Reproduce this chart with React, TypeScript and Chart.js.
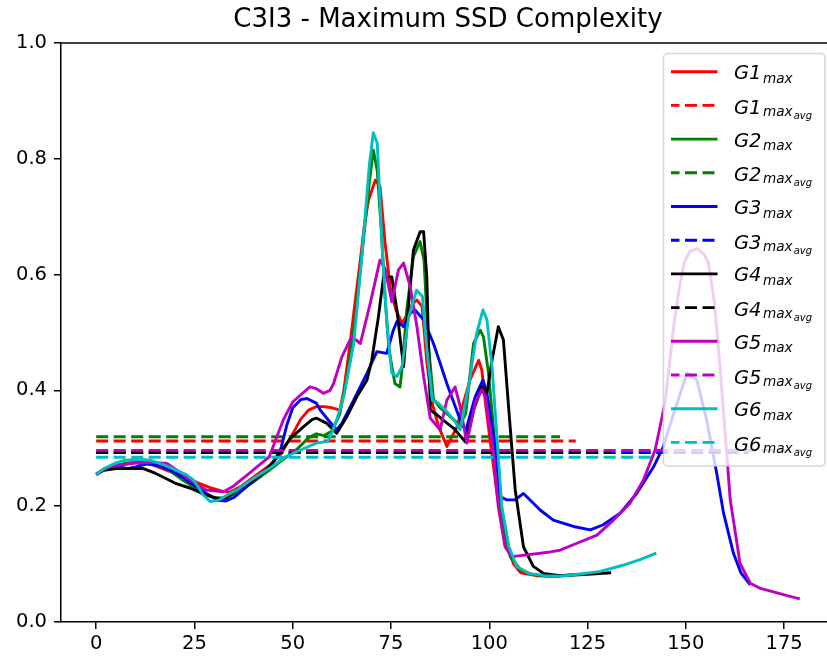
import { useEffect, useRef } from "react";
import { Chart, registerables } from "chart.js";

Chart.register(...registerables);

const titleText = "C3I3 - Maximum SSD Complexity";
const xTickValues = [0, 25, 50, 75, 100, 125, 150, 175];
const yTickValues = [0, 0.2, 0.4, 0.6, 0.8, 1.0];

// G1 (red)
const g1X = [0, 2, 4, 6, 10, 14, 18, 22, 26, 29, 32, 34, 37, 40, 44, 47, 50, 52, 54, 56, 58, 60, 62, 63, 64.6, 66, 67.2, 68.3, 69.3, 71, 72.2, 73.5, 74.8, 76.2, 77.8, 79, 80.5, 81.6, 82.9, 84.1, 85.4, 87, 89.2, 91.8, 93.5, 95.1, 97.3, 98.1, 99, 100.2, 102, 104, 106.2, 108, 112, 116, 122];
const g1Y = [0.255, 0.264, 0.269, 0.271, 0.275, 0.272, 0.262, 0.252, 0.24, 0.232, 0.226, 0.224, 0.235, 0.25, 0.27, 0.29, 0.325, 0.35, 0.366, 0.372, 0.372, 0.37, 0.366, 0.4, 0.481, 0.56, 0.625, 0.69, 0.729, 0.763, 0.752, 0.654, 0.579, 0.54, 0.516, 0.53, 0.55, 0.556, 0.545, 0.45, 0.38, 0.34, 0.303, 0.337, 0.38, 0.418, 0.452, 0.435, 0.38, 0.314, 0.22, 0.14, 0.1, 0.085, 0.08, 0.079, 0.082];

// G2 (green)
const g2X = [0, 2, 4, 6, 10, 14, 18, 22, 26, 30, 33, 36, 40, 44, 48, 51, 54, 56, 58, 60, 62, 64, 66, 68, 69.5, 70.5, 71.5, 72.5, 73.5, 74.5, 76, 77.3, 78, 79, 80.7, 82.4, 83.4, 84.5, 85.8, 87.5, 90, 92.5, 94, 96, 97.7, 98.5, 99.8, 101.5, 103.2, 105.3, 108, 111, 114, 118];
const g2Y = [0.255, 0.264, 0.269, 0.272, 0.277, 0.275, 0.265, 0.245, 0.228, 0.215, 0.214, 0.224, 0.242, 0.262, 0.283, 0.298, 0.318, 0.325, 0.322, 0.33, 0.36, 0.43, 0.53, 0.66, 0.76, 0.815, 0.78, 0.68, 0.56, 0.47, 0.412, 0.406, 0.45, 0.539, 0.631, 0.657, 0.625, 0.48, 0.385, 0.37, 0.355, 0.34, 0.36, 0.481, 0.504, 0.493, 0.43, 0.303, 0.182, 0.113, 0.09, 0.082, 0.08, 0.079];

// G3 (blue)
const g3X = [0, 2, 4, 6, 8, 10, 13, 16, 19, 22, 25, 28, 31, 33, 35, 38, 42, 45, 47, 48.5, 50, 52, 53.6, 56, 57, 59.5, 61.2, 62.5, 65.5, 68.9, 71.4, 73.9, 75.6, 76.5, 78.2, 79.9, 81.1, 83.3, 85.8, 87.5, 89.2, 92.6, 94, 96.4, 98.4, 99.4, 101.5, 102.8, 104.5, 106.6, 108.7, 110.5, 113, 116.3, 121.4, 125.7, 129, 133.3, 137.5, 141.8, 144.3, 146.9, 150.3, 152.8, 155.3, 157.9, 159.6, 162.1, 164, 166.4];
const g3Y = [0.255, 0.264, 0.268, 0.268, 0.265, 0.268, 0.273, 0.27, 0.262, 0.25, 0.236, 0.222, 0.21, 0.209, 0.215, 0.232, 0.255, 0.275, 0.3, 0.34, 0.37, 0.384, 0.386, 0.378, 0.366, 0.345, 0.332, 0.343, 0.383, 0.43, 0.467, 0.464, 0.504, 0.519, 0.51, 0.533, 0.539, 0.522, 0.481, 0.447, 0.412, 0.349, 0.33, 0.389, 0.418, 0.395, 0.303, 0.216, 0.211, 0.211, 0.222, 0.21, 0.193, 0.176, 0.165, 0.159, 0.168, 0.188, 0.222, 0.268, 0.303, 0.36, 0.43, 0.418, 0.349, 0.255, 0.188, 0.119, 0.085, 0.064];

// G4 (black)
const g4X = [0, 2, 5, 8, 12, 15, 18, 20, 24, 28, 31, 33, 36, 40, 43.4, 46, 49.4, 52.7, 55, 56.1, 58.7, 61.2, 63.8, 66.3, 68.9, 70.1, 71.8, 73.1, 75.2, 76.5, 77.5, 78.2, 79.5, 80.7, 82.4, 83.3, 84.1, 85, 86.7, 88, 90.9, 93.9, 96, 98.1, 99.4, 100.7, 102.3, 103.6, 104.9, 106.6, 108.7, 111.2, 113.8, 118, 124, 131];
const g4Y = [0.255, 0.262, 0.265, 0.265, 0.265, 0.257, 0.247, 0.24, 0.231, 0.219, 0.213, 0.214, 0.229, 0.245, 0.262, 0.285, 0.317, 0.337, 0.35, 0.352, 0.343, 0.326, 0.355, 0.389, 0.418, 0.452, 0.527, 0.596, 0.596, 0.539, 0.48, 0.441, 0.55, 0.642, 0.674, 0.674, 0.596, 0.366, 0.358, 0.35, 0.335, 0.311, 0.366, 0.406, 0.395, 0.452, 0.51, 0.487, 0.372, 0.228, 0.13, 0.096, 0.084, 0.08, 0.082, 0.085];

// G5 (magenta)
const g5X = [0, 2, 4, 6, 10, 14, 18, 20.5, 24, 28, 32.4, 35, 39, 44, 47.6, 50, 52, 54.4, 56, 57.8, 59.5, 60.4, 62.5, 65, 67.2, 69.7, 72.2, 73.5, 75.2, 76.9, 78.2, 79.9, 81.6, 83.3, 85, 87.5, 89.2, 91.3, 92.6, 94.3, 96.4, 98.1, 99, 100.7, 102.3, 104, 105.7, 109.6, 115.5, 118, 122.3, 127.4, 131.6, 135.8, 139.2, 142.2, 144.7, 146.9, 148.3, 149.6, 151, 152.8, 154.5, 155.7, 157.2, 158.7, 160, 161.3, 162.1, 163.8, 166.4, 169, 172.3, 176, 179];
const g5Y = [0.255, 0.264, 0.269, 0.271, 0.275, 0.276, 0.274, 0.262, 0.245, 0.228, 0.225, 0.235, 0.257, 0.285, 0.349, 0.38, 0.392, 0.406, 0.403, 0.395, 0.4, 0.412, 0.458, 0.493, 0.481, 0.55, 0.625, 0.61, 0.553, 0.608, 0.62, 0.579, 0.51, 0.424, 0.352, 0.332, 0.383, 0.406, 0.372, 0.309, 0.378, 0.401, 0.389, 0.314, 0.199, 0.13, 0.113, 0.116, 0.121, 0.124, 0.136, 0.15, 0.176, 0.205, 0.245, 0.297, 0.378, 0.51, 0.575, 0.621, 0.64, 0.645, 0.636, 0.622, 0.556, 0.441, 0.326, 0.211, 0.176, 0.101, 0.067, 0.058, 0.052, 0.045, 0.04];

// G6 (cyan)
const g6X = [0, 2, 4.4, 7, 11, 14, 17, 20.5, 23, 24.8, 27.3, 29, 31, 33, 36, 40, 44, 48, 52, 56, 59, 61, 63, 65.5, 67.5, 69.5, 70.5, 71.5, 72.7, 74, 75.2, 76.5, 77.8, 79.5, 81.5, 83, 84, 85.5, 87, 89, 91, 92.6, 95, 96.8, 98.4, 99.4, 100.7, 102, 103.2, 105, 107, 110, 114, 118, 122, 128, 134, 138, 142.5];
const g6Y = [0.255, 0.265, 0.273, 0.279, 0.281, 0.279, 0.272, 0.262, 0.254, 0.245, 0.219, 0.208, 0.21, 0.218, 0.229, 0.248, 0.265, 0.285, 0.297, 0.309, 0.312, 0.345, 0.39, 0.48, 0.625, 0.79, 0.845, 0.827, 0.654, 0.51, 0.43, 0.424, 0.441, 0.527, 0.573, 0.562, 0.481, 0.383, 0.378, 0.365, 0.349, 0.332, 0.418, 0.499, 0.539, 0.522, 0.441, 0.314, 0.199, 0.13, 0.096, 0.084, 0.08, 0.079, 0.082, 0.087, 0.098, 0.107, 0.119];

// averages (dashed) and the last x of each series
const avgValues = [0.3125, 0.32, 0.2925, 0.2925, 0.2965, 0.2845];
const avgEnds = [122, 118, 166, 131, 179, 142];
const groupNames = ["G1", "G2", "G3", "G4", "G5", "G6"];

const seriesX = [g1X, g2X, g3X, g4X, g5X, g6X];
const seriesY = [g1Y, g2Y, g3Y, g4Y, g5Y, g6Y];
const colors = ["#ff0000", "#008000", "#0000ff", "#000000", "#bf00bf", "#00bfbf"];

const FONT = "'DejaVu Sans', sans-serif";
const LW = 2.9;
const DASH = [12, 5.5];

const overlayPlugin = {
  id: "overlay",
  afterDraw(chart: any) {
    const ctx = chart.ctx as CanvasRenderingContext2D;
    const a = chart.chartArea;
    ctx.save();
    // top spine
    ctx.strokeStyle = "#000";
    ctx.lineWidth = 1.5;
    ctx.beginPath();
    ctx.moveTo(a.left, a.top);
    ctx.lineTo(a.right, a.top);
    ctx.stroke();
    // title
    ctx.fillStyle = "#000";
    ctx.font = `26px ${FONT}`;
    ctx.textAlign = "center";
    ctx.textBaseline = "alphabetic";
    ctx.fillText(titleText, (a.left + a.right) / 2, 27);

    // legend
    const bx = 663.5, by = 53.5, bw = 161.5, bh = 412.5;
    ctx.beginPath();
    (ctx as any).roundRect(bx, by, bw, bh, 4);
    ctx.fillStyle = "rgba(255,255,255,0.8)";
    ctx.fill();
    ctx.strokeStyle = "rgba(204,204,204,0.8)";
    ctx.lineWidth = 1.5;
    ctx.stroke();

    ctx.textAlign = "left";
    for (let k = 0; k < 12; k++) {
      const g = Math.floor(k / 2);
      const isAvg = k % 2 === 1;
      const y = 71.7 + k * 33.7;
      ctx.strokeStyle = colors[g];
      ctx.lineWidth = LW;
      ctx.setLineDash(isAvg ? DASH : []);
      ctx.lineDashOffset = isAvg ? 3.5 : 0;
      ctx.beginPath();
      ctx.moveTo(671, y);
      ctx.lineTo(717.5, y);
      ctx.stroke();
      ctx.setLineDash([]);
      ctx.fillStyle = "#000";
      const gBase = y + (isAvg ? 8.5 : 7.5);
      ctx.font = `italic 19.5px ${FONT}`;
      ctx.fillText(groupNames[g], 734, gBase);
      const w1 = ctx.measureText(groupNames[g]).width;
      ctx.font = `italic 13.6px ${FONT}`;
      const subBase = y + (isAvg ? 10.5 : 11);
      ctx.fillText("max", 734 + w1 + 1.5, subBase);
      if (isAvg) {
        const w2 = ctx.measureText("max").width;
        ctx.font = `italic 10px ${FONT}`;
        ctx.fillText("avg", 734 + w1 + 1.5 + w2 + 1, y + 13.5);
      }
    }
    ctx.restore();
  },
};

export default function App() {
  const ref = useRef<HTMLCanvasElement | null>(null);

  useEffect(() => {
    if (!ref.current) return;
    const datasets: any[] = [];
    for (let i = 0; i < 6; i++) {
      datasets.push({
        label: groupNames[i] + "max",
        data: seriesX[i].map((x, j) => ({ x, y: seriesY[i][j] })),
        borderColor: colors[i],
        borderWidth: LW,
        pointRadius: 0,
        tension: 0,
        fill: false,
        borderJoinStyle: "round",
        order: 100 - 2 * i,
      });
      datasets.push({
        label: groupNames[i] + "maxavg",
        data: [
          { x: 0, y: avgValues[i] },
          { x: avgEnds[i], y: avgValues[i] },
        ],
        borderColor: colors[i],
        borderWidth: LW,
        borderDash: DASH,
        pointRadius: 0,
        tension: 0,
        fill: false,
        order: 100 - 2 * i - 1,
      });
    }

    const chart = new Chart(ref.current, {
      type: "line",
      data: { datasets },
      options: {
        animation: false,
        responsive: false,
        maintainAspectRatio: false,
        layout: { padding: { left: 0, top: 43, right: 15, bottom: 0 } },
        plugins: {
          legend: { display: false },
          title: { display: false },
          tooltip: { enabled: false },
        },
        scales: {
          x: {
            type: "linear",
            min: -8.95,
            max: 187.95,
            grid: { display: true, drawOnChartArea: false, drawTicks: true, tickLength: 7, color: "#000", lineWidth: 1.5 },
            border: { display: true, color: "#000", width: 1.5 },
            ticks: { padding: 3, color: "#000", font: { family: FONT, size: 19.5 }, maxRotation: 0, autoSkip: false },
            afterBuildTicks: (s: any) => {
              s.ticks = xTickValues.map((v) => ({ value: v }));
            },
            afterFit: (s: any) => {
              s.height = 40;
            },
          },
          y: {
            type: "linear",
            min: 0,
            max: 1,
            grid: { display: true, drawOnChartArea: false, drawTicks: true, tickLength: 7, color: "#000", lineWidth: 1.5 },
            border: { display: true, color: "#000", width: 1.5 },
            ticks: {
              padding: 7,
              color: "#000",
              font: { family: FONT, size: 19.5 },
              autoSkip: false,
              callback: (v: any) => Number(v).toFixed(1),
            },
            afterBuildTicks: (s: any) => {
              s.ticks = yTickValues.map((v) => ({ value: v }));
            },
            afterFit: (s: any) => {
              s.width = 61;
            },
          },
        },
      } as any,
      plugins: [overlayPlugin],
    });
    return () => chart.destroy();
  }, []);

  return (
    <div style={{ position: "fixed", left: 0, top: 0, width: 827, height: 662, overflow: "hidden", background: "#fff" }}>
      <canvas ref={ref} width={850} height={662} style={{ display: "block", width: 850, height: 662 }} />
    </div>
  );
}
